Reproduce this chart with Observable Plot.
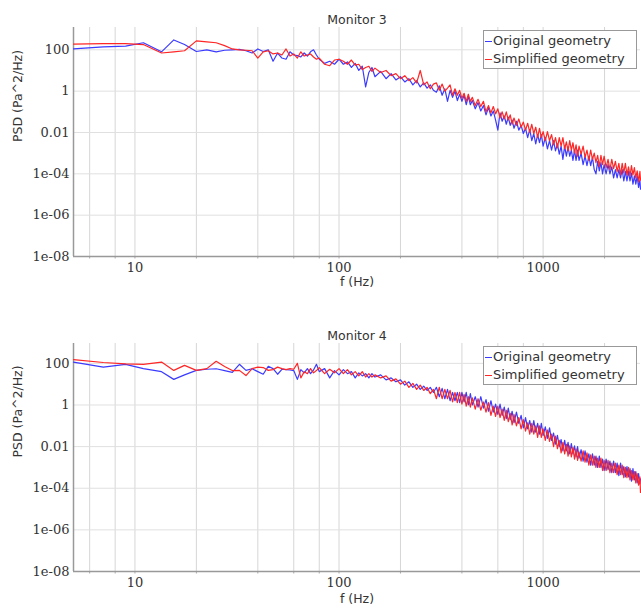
<!DOCTYPE html>
<html>
<head>
<meta charset="utf-8">
<script src="https://cdn.jsdelivr.net/npm/d3@7"></script>
<script src="https://cdn.jsdelivr.net/npm/@observablehq/plot@0.6"></script>
<style>
  html, body { margin: 0; padding: 0; background: #fff; }
  #root { position: relative; width: 641px; height: 610px; }
  #root svg { display: block; }
  .legend { position: absolute; left: 483px; width: 154px; height: 39px; border: 1.5px solid #999; background: #fff;
    font-family: "DejaVu Sans", sans-serif; font-size: 13px; color: #333; box-sizing: border-box; }
  .legend .row { position: absolute; left: 1px; height: 18px; line-height: 18px; white-space: nowrap; }
  .legend .sw { display: inline-block; width: 7px; height: 0; border-top: 1.5px solid; vertical-align: middle; margin-right: 1px; }
</style>
</head>
<body>
<div id="root"></div>
<script>
// Frequencies (Hz), shared by all series
const freq = [5, 7, 9, 11, 13.5, 15.5, 17.5, 20, 22.5, 25, 27.5, 30, 32.5, 35, 37.5, 40, 42.5, 45, 47.5, 50, 52.5, 55, 57.5, 60, 62.5, 65, 67.5, 70, 72.5, 75, 77.5, 80,
  85, 90, 95, 100, 105, 110, 115, 120, 125, 130, 135, 140, 145, 150,
  160, 170, 180, 190, 200, 210, 220, 230, 240, 250, 260, 270, 280, 290,
  300, 310, 320, 330, 340, 350, 360, 370, 380, 390, 400, 410, 420, 430, 440, 450,
  465, 480, 495, 510, 525, 540, 555, 570, 585, 600, 615, 630, 645, 660, 675, 690, 705,
  720, 740, 760, 780, 800, 820, 840, 860, 880, 900, 920, 940, 960, 980, 1000,
  1025, 1050, 1075, 1100, 1125, 1150, 1175, 1200, 1225, 1250, 1275, 1300, 1325, 1350, 1375, 1400, 1425, 1450, 1475, 1500,
  1535, 1570, 1605, 1640, 1675, 1710, 1745, 1780, 1815, 1850, 1885, 1920, 1955, 1990,
  2035, 2080, 2125, 2170, 2215, 2260, 2305, 2350, 2395, 2440, 2485, 2530, 2575, 2620, 2665, 2710, 2755, 2800, 2845, 2890, 2935, 2980,
  3000];

// Monitor 3 – PSD (Pa^2/Hz)
const orig3 = [110, 140, 150, 220, 80, 300, 180, 83, 100, 80, 95, 100, 105, 90, 70, 110, 83, 100, 28, 70, 40, 35, 80, 56, 52, 45, 70, 50, 80, 100, 56, 35,
  22, 28, 20, 35, 20, 26, 14, 22, 10, 16, 1.6, 8, 14, 5,
  9, 4, 7, 3.5, 5, 2.8, 4, 2, 3.2, 1.6, 2.5, 1.4, 2, 1.1,
  0.89, 1.8, 0.63, 1.3, 0.32, 1.1, 0.5, 1.0, 0.35, 0.71, 0.32, 0.63, 0.22, 0.56, 0.22, 0.35,
  0.14, 0.28, 0.11, 0.2, 0.071, 0.16, 0.063, 0.11, 0.04, 0.013, 0.089, 0.035, 0.063, 0.025, 0.056, 0.022, 0.04,
  0.016, 0.035, 0.013, 0.022, 8.9e-3, 0.016, 5.6e-3, 0.014, 4e-3, 8.9e-3, 2.8e-3, 7.9e-3, 3.2e-3, 7.9e-3, 2.2e-3,
  5.6e-3, 1.6e-3, 4e-3, 1.4e-3, 4e-3, 1.3e-3, 2.8e-3, 8.9e-4, 2.2e-3, 5e-4, 2.2e-3, 7.1e-4, 2e-3, 7.1e-4, 1.4e-3, 4.5e-4, 1.4e-3, 4.5e-4, 1.4e-3, 4.5e-4,
  1e-3, 2.8e-4, 7.1e-4, 2.5e-4, 7.1e-4, 2.5e-4, 6.3e-4, 1.6e-4, 1e-4, 4e-4, 1.4e-4, 3.5e-4, 1e-4, 2.8e-4,
  1e-4, 2.8e-4, 1e-4, 2.2e-4, 6.3e-5, 1.6e-4, 6.3e-5, 1.6e-4, 6.3e-5, 1.6e-4, 4.5e-5, 1.3e-4, 4.5e-5, 1.3e-4, 4.5e-5, 1.1e-4, 3.2e-5, 7.9e-5, 3.2e-5, 7.9e-5, 2.2e-5, 5e-5,
  1.8e-5];
const simp3 = [190, 200, 200, 180, 70, 80, 90, 270, 240, 220, 160, 110, 100, 95, 90, 40, 80, 90, 63, 70, 56, 110, 50, 63, 40, 80, 50, 56, 63, 45, 35, 40,
  20, 17, 32, 35, 28, 20, 32, 18, 20, 11, 14, 16, 9, 13,
  8, 10, 5.6, 7, 4, 5.6, 3.2, 4.5, 2.5, 10, 2, 2.8, 1.3, 2.2,
  2.5, 1.1, 2.2, 1.0, 1.4, 2.0, 0.63, 1.3, 0.63, 1.1, 0.45, 0.79, 0.32, 0.71, 0.32, 0.5,
  0.2, 0.4, 0.18, 0.32, 0.1, 0.2, 0.089, 0.18, 0.079, 0.14, 0.05, 0.1, 0.045, 0.1, 0.04, 0.071, 0.025,
  0.05, 0.022, 0.045, 0.018, 0.032, 0.013, 0.028, 0.01, 0.025, 8.9e-3, 0.018, 5.6e-3, 0.016, 5.6e-3, 0.011,
  4e-3, 0.011, 4e-3, 7.9e-3, 2.5e-3, 5.6e-3, 1.8e-3, 5.6e-3, 2.2e-3, 5.6e-3, 1.6e-3, 3.5e-3, 1.3e-3, 4e-3, 1.4e-3, 3.2e-3, 1e-3, 2.5e-3, 7.1e-4, 2.2e-3,
  8.9e-4, 2.2e-3, 6.3e-4, 1.4e-3, 4.5e-4, 1.4e-3, 5e-4, 1e-3, 3.5e-4, 7.9e-4, 2.2e-4, 7.9e-4, 2.8e-4, 7.1e-4,
  2e-4, 5e-4, 1.6e-4, 5e-4, 1.8e-4, 4e-4, 1.3e-4, 3.2e-4, 8.9e-5, 3.2e-4, 1.1e-4, 3.2e-4, 8.9e-5, 2.2e-4, 7.9e-5, 2.5e-4, 8.9e-5, 2e-4, 6.3e-5, 1.4e-4, 4e-5, 1.3e-4,
  5e-5];

// Monitor 4 – PSD (Pa^2/Hz)
const orig4 = [115, 66, 90, 56, 40, 17, 28, 46, 52, 55, 45, 37, 90, 46, 55, 40, 30, 72, 56, 30, 52, 50, 48, 45, 17, 50, 35, 56, 32, 48, 90, 40,
  56, 20, 45, 28, 50, 32, 40, 20, 35, 25, 32, 20, 32, 22,
  28, 16, 20, 13, 16, 9, 13, 7, 10, 5.6, 8, 5, 7, 4,
  7.1, 2.5, 6.3, 2.0, 5.6, 1.6, 4.0, 1.6, 4.0, 1.3, 4.0, 1.4, 4.0, 1.0, 3.5, 1.0,
  2.5, 0.79, 2.5, 0.71, 1.8, 0.5, 1.6, 0.45, 1.1, 0.35, 1.1, 0.32, 0.79, 0.22, 0.71, 0.2, 0.5,
  0.14, 0.45, 0.13, 0.32, 0.079, 0.25, 0.071, 0.18, 0.05, 0.18, 0.05, 0.13, 0.04, 0.13, 0.035,
  0.089, 0.025, 0.079, 0.02, 0.045, 0.013, 0.035, 0.01, 0.022, 6.3e-3, 0.02, 6.3e-3, 0.016, 4.5e-3, 0.014, 4.5e-3, 0.011, 3.2e-3, 0.01, 2.8e-3,
  7.1e-3, 2e-3, 6.3e-3, 1.8e-3, 4.5e-3, 1.3e-3, 4.5e-3, 1.3e-3, 3.5e-3, 1e-3, 3.5e-3, 1e-3, 2.5e-3, 7.1e-4,
  2.5e-3, 7.9e-4, 2e-3, 5.6e-4, 2e-3, 5.6e-4, 1.6e-3, 4e-4, 1.6e-3, 4.5e-4, 1.1e-3, 3.5e-4, 1.1e-3, 3.5e-4, 8.9e-4, 2.2e-4, 8.9e-4, 2.5e-4, 6.3e-4, 1.8e-4, 5e-4, 1.6e-4,
  2.8e-4];
const simp4 = [150, 110, 95, 89, 115, 46, 80, 46, 56, 125, 70, 45, 46, 26, 56, 66, 63, 46, 50, 66, 56, 50, 56, 52, 100, 20, 40, 32, 56, 35, 45, 63,
  32, 52, 35, 56, 32, 50, 28, 40, 25, 40, 22, 32, 22, 28,
  20, 25, 14, 18, 10, 14, 7, 11, 5.6, 9, 5, 7, 3.5, 5.6,
  2.0, 7.1, 2.0, 5.6, 2.0, 5.0, 1.4, 4.0, 1.3, 4.0, 1.1, 3.2, 0.89, 2.5, 0.79, 2.2,
  0.63, 2.0, 0.56, 1.4, 0.45, 1.3, 0.32, 0.89, 0.28, 0.89, 0.25, 0.63, 0.18, 0.56, 0.16, 0.4, 0.11,
  0.35, 0.1, 0.25, 0.071, 0.2, 0.056, 0.14, 0.04, 0.13, 0.04, 0.1, 0.028, 0.1, 0.028, 0.071,
  0.02, 0.063, 0.018, 0.04, 0.01, 0.032, 7.9e-3, 0.02, 5e-3, 0.016, 4.5e-3, 0.013, 3.5e-3, 0.011, 3.2e-3, 8.9e-3, 2.5e-3, 7.9e-3, 2.2e-3, 5.6e-3,
  2e-3, 6.3e-3, 1.8e-3, 5e-3, 1.3e-3, 4e-3, 1.3e-3, 3.5e-3, 1e-3, 2.8e-3, 1e-3, 2.8e-3, 7.1e-4, 2.2e-3,
  7.1e-4, 2.2e-3, 5.6e-4, 1.6e-3, 5.6e-4, 1.6e-3, 4.5e-4, 1.3e-3, 4.5e-4, 1.3e-3, 3.2e-4, 1e-3, 3.2e-4, 1e-3, 2.5e-4, 7.1e-4, 2.5e-4, 6.3e-4, 1.8e-4, 5e-4, 1.4e-4, 3.5e-4,
  6.3e-5];

const seriesNames = ["Original geometry", "Simplified geometry"];
const seriesColors = ["#3b3bff", "#ff2626"];
const panelTitles = ["Monitor 3", "Monitor 4"];
const xTicks = [6, 8, 10, 20, 40, 60, 80, 100, 200, 400, 600, 800, 1000, 2000];
const xTickLabels = [10, 100, 1000];
const yTicks = [1e-8, 1e-6, 1e-4, 1e-2, 1, 100];
const yTickLabels = ["1e-08", "1e-06", "1e-04", "0.01", "1", "100"];
const xDomain = [5, 3000];
const yTop = [1200, 900];

[orig3, simp3, orig4, simp4].forEach((s, i) => {
  if (s.length !== freq.length) document.body.insertAdjacentHTML("afterbegin", `<p>series ${i}: ${s.length} vs ${freq.length}</p>`);
});

function panel(title, orig, simp, top, opts) {
  const dOrig = freq.map((f, i) => ({f, v: orig[i]}));
  const dSimp = freq.map((f, i) => ({f, v: simp[i]}));
  return Plot.plot({
    width: 641,
    height: opts.height,
    marginTop: opts.marginTop,
    marginBottom: opts.marginBottom,
    marginLeft: 73,
    marginRight: 1,
    style: {fontFamily: "DejaVu Sans, sans-serif", fontSize: "12px", color: "#333", background: "#fff", overflow: "visible"},
    x: {type: "log", domain: xDomain},
    y: {type: "log", domain: [1e-8, top]},
    marks: [
      Plot.gridX(xTicks, {stroke: "#d6d6d6", strokeOpacity: 1, strokeWidth: 1}),
      Plot.gridY(yTicks, {stroke: "#e0e0e0", strokeOpacity: 1, strokeWidth: 1}),
      Plot.axisX(xTicks, {tickSize: 2.5, tickPadding: 4, stroke: "#aaa", fontFamily: "DejaVu Serif, serif", fontSize: 13, fill: "#333",
        tickFormat: d => xTickLabels.includes(d) ? String(d) : "", label: null}),
      Plot.axisY(yTicks, {tickSize: 0, tickPadding: 4, fontFamily: "DejaVu Serif, serif", fontSize: 13, fill: "#333",
        tickFormat: d => yTickLabels[yTicks.indexOf(d)], label: null}),
      Plot.ruleY([1e-8], {stroke: "#999", strokeWidth: 1.5}),
      Plot.ruleX([xDomain[0]], {stroke: "#999", strokeWidth: 1.5}),
      Plot.line(dOrig, {x: "f", y: "v", stroke: seriesColors[0], strokeWidth: 1.2}),
      Plot.line(dSimp, {x: "f", y: "v", stroke: seriesColors[1], strokeWidth: 1.2}),
      Plot.text([title], {frameAnchor: "top", dy: -12, fontSize: 12.5, fill: "#333"}),
      Plot.text(["f (Hz)"], {frameAnchor: "bottom", dy: opts.xLabelDy, fontSize: 12.5, fill: "#333"}),
      Plot.text(["PSD (Pa^2/Hz)"], {frameAnchor: "left", dx: -56, rotate: -90, fontSize: 12.5, fill: "#333"})
    ]
  });
}

const root = document.getElementById("root");
root.appendChild(panel(panelTitles[0], orig3, simp3, yTop[0], {height: 300, marginTop: 27, marginBottom: 44, xLabelDy: 29}));
root.appendChild(panel(panelTitles[1], orig4, simp4, yTop[1], {height: 310, marginTop: 43, marginBottom: 39, xLabelDy: 31}));

[30, 346].forEach(top => {
  const lg = document.createElement("div");
  lg.className = "legend";
  lg.style.top = top + "px";
  seriesNames.forEach((name, i) => {
    const row = document.createElement("div");
    row.className = "row";
    row.style.top = (i * 18 + 1) + "px";
    const sw = document.createElement("span");
    sw.className = "sw";
    sw.style.borderTopColor = seriesColors[i];
    row.appendChild(sw);
    row.appendChild(document.createTextNode(name));
    lg.appendChild(row);
  });
  root.appendChild(lg);
});
</script>
</body>
</html>
